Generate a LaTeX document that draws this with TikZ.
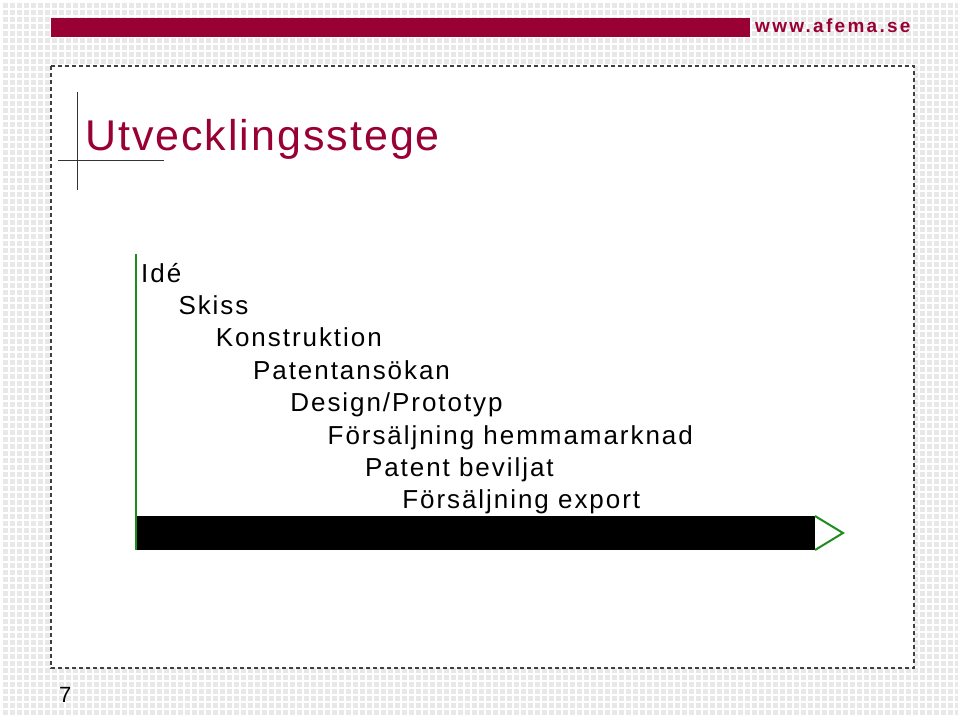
\documentclass[tikz,border=0pt]{standalone}
\usepackage{fontspec}
\setmainfont{Liberation Sans}
\newfontfamily\stepfont[LetterSpace=7.5]{Liberation Sans}
\newfontfamily\titlefont[LetterSpace=4.6]{Liberation Sans}
\newfontfamily\webfont[LetterSpace=12]{Liberation Sans}
\usetikzlibrary{positioning}
\definecolor{afemared}{RGB}{153,0,51}
\definecolor{stepgreen}{RGB}{30,140,30}
\begin{document}
\begin{tikzpicture}[x=1pt, y=-1pt,
    stepitem/.style={anchor=base west, inner sep=0pt, font=\stepfont\fontsize{26}{30}\selectfont},
    greenline/.style={stepgreen, line width=2pt}]
    \useasboundingbox (0,0) rectangle (960,720);
    % rutad bakgrund
    \fill[black!9] (2,2) rectangle (958,717);
    \foreach \gx in {0,7,...,952}
        \draw[white, line width=1.4pt] (2+\gx,2) -- (2+\gx,717);
    \foreach \gy in {0,7,...,714}
        \draw[white, line width=1.4pt] (2,2+\gy) -- (958,2+\gy);
    % rubrikfalt
    \fill[afemared] (51,18) rectangle (750,37);
    \node[anchor=west, inner sep=0pt, text=afemared, font=\webfont\bfseries\fontsize{19}{21}\selectfont] (web) at (755,26) {www.afema.se};
    % vit yta
    \draw[fill=white, draw=black!75, line width=1.3pt, dash pattern=on 4pt off 3pt] (51,66) rectangle (914,668);
    % rubrik
    \draw[black!80, line width=0.8pt]
    (77,92) -- (77,190)
    (58,160) -- (164,160);
    \node[anchor=base west, inner sep=0pt, text=afemared, font=\titlefont\fontsize{43}{50}\selectfont] (title) at (85,150) {Utvecklingsstege};
    % trappan
    \foreach \txt [count=\i from 0] in {Idé, Skiss, Konstruktion, Patentansökan, Design/Prototyp, Försäljning hemmamarknad, Patent beviljat, Försäljning export}
        \node[stepitem] (step\i) at (141+37.3*\i, 282+32.4*\i) {\txt};
    % tidslinje
    \coordinate (origin) at (136,550);
    \coordinate (top) at (136,254);
    \fill (137,516) rectangle (815,550);
    \draw[greenline] (top) -- (origin);
    \draw[greenline, line join=miter] (815,516) -- (843,533) -- (815,550);
    % sidnummer
    \node[anchor=base west, inner sep=0pt, font=\fontsize{22}{26}\selectfont] (page) at (59,702) {7};
\end{tikzpicture}
\end{document}
